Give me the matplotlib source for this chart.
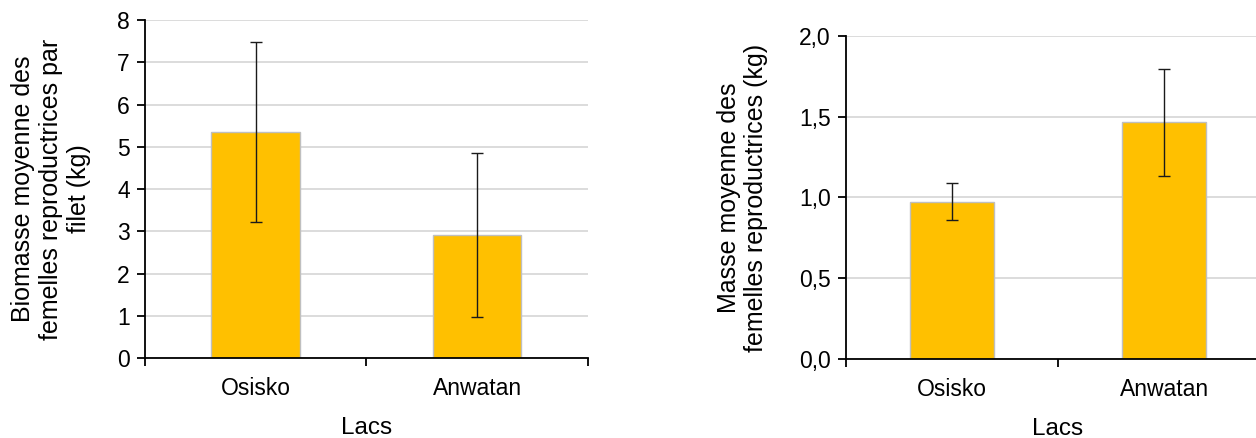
import numpy as np
import matplotlib.pyplot as plt

plt.rcParams['font.family'] = ['Liberation Sans', 'DejaVu Sans']

lacs = ['Osisko', 'Anwatan']
biomasse = [5.35, 2.91]
biomasse_err = [2.13, 1.95]
masse = [0.975, 1.465]
masse_err = [0.115, 0.33]

fig = plt.figure(figsize=(12.56, 4.38), dpi=100)
ax1 = fig.add_axes([0.1154, 0.1826, 0.3527, 0.7717])
ax2 = fig.add_axes([0.6736, 0.1804, 0.3376, 0.7374])


def style(ax, vals, errs, ymax, step, fmt, ylabel, label_x):
    x = np.arange(len(vals))
    ax.set_axisbelow(True)
    ax.yaxis.grid(True, color='#d9d9d9', linewidth=1.3)
    ax.bar(x, vals, width=0.4, color='#FFC000', edgecolor='#bfbfbf', linewidth=1)
    ax.errorbar(x, vals, yerr=errs, fmt='none', ecolor='#1a1a1a', elinewidth=1,
                capsize=4.5, capthick=1)
    ax.set_xlim(-0.5, len(vals) - 0.5)
    ax.set_ylim(0, ymax)
    yt = np.arange(0, ymax + step / 2, step)
    ax.set_yticks(yt)
    ax.set_yticklabels([fmt(v) for v in yt])
    ax.set_xticks(x)
    ax.set_xticklabels(lacs)
    ax.set_xticks(np.arange(-0.5, len(vals)), minor=True)
    ax.tick_params(axis='x', which='major', length=0, pad=14, labelsize=16.5)
    ax.tick_params(axis='x', which='minor', length=6, width=1.3, direction='out')
    ax.tick_params(axis='y', length=6, width=1.3, labelsize=16.5, pad=5)
    for s in ['top', 'right']:
        ax.spines[s].set_visible(False)
    ax.spines['left'].set_linewidth(1.3)
    ax.spines['bottom'].set_linewidth(1.3)
    ax.set_xlabel('Lacs', fontsize=17.5, labelpad=12)
    ax.set_ylabel(ylabel, fontsize=18, linespacing=1.2)
    ax.yaxis.set_label_coords(label_x, 0.5)


style(ax1, biomasse, biomasse_err, 8, 1, lambda v: f'{v:.0f}',
      'Biomasse moyenne des\nfemelles reproductrices par\nfilet (kg)', -0.122)
style(ax2, masse, masse_err, 2.0, 0.5, lambda v: f'{v:.1f}'.replace('.', ','),
      'Masse moyenne des\nfemelles reproductrices (kg)', -0.183)

fig.savefig('out.png', dpi=100)
